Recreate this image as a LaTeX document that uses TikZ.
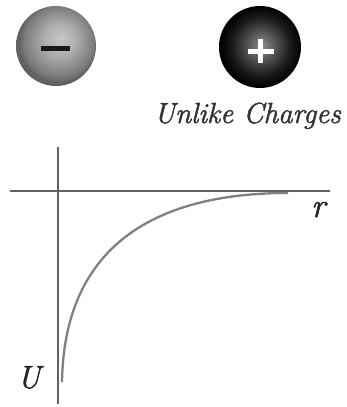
\documentclass[tikz,border=0pt]{standalone}
\usepackage{fontspec}
\newfontfamily\lmit{Latin Modern Roman}[FakeBold=1.6]
\pgfdeclareradialshading{lightball}{\pgfpoint{3bp}{5bp}}{color(0bp)=(black!22); color(10bp)=(black!32); color(22bp)=(black!52); color(25bp)=(black!62); color(50bp)=(black!62)}
\pgfdeclareradialshading{darkball}{\pgfpoint{1bp}{1bp}}{color(0bp)=(black!45); color(9bp)=(black!68); color(18bp)=(black!90); color(25bp)=(black); color(50bp)=(black)}
\begin{document}
\begin{tikzpicture}[x=1pt,y=-1pt,
  axis/.style={draw=black!62, line width=2.8pt},
  curve/.style={draw=black!50, line width=2.3pt},
  lbl/.style={inner sep=0pt}]
\useasboundingbox (0,0) rectangle (346,407);
% spheres
\shade[shading=lightball] (56,46) circle (40);
\node[circle, minimum size=80pt, inner sep=0pt] (neg) at (56,46) {};
\fill[black!90] (41,45.5) rectangle (70,50.5);
\shade[shading=darkball] (260,47) circle (41);
\node[circle, minimum size=82pt, inner sep=0pt] (pos) at (260,47) {};
\fill[white] (258,39) rectangle (263,63);
\fill[white] (248,48.5) rectangle (274,53.5);
\node[lbl, font=\lmit\itshape\fontsize{29}{31}\selectfont, text=black!80, anchor=base east] (cap) at (341,123) {Unlike Charges};
% axes
\coordinate (vt) at (58,147);
\coordinate (vb) at (58,404);
\coordinate (hl) at (10,191);
\coordinate (hr) at (330,191);
\draw[axis] (vt) -- (vb);
\draw[axis] (hl) -- (hr);
\coordinate (cs) at (62,382);
\coordinate (ce) at (288,193);
\draw[curve] (cs) .. controls (64,250) and (150,193) .. (ce);
\node[lbl, font=\lmit\itshape\fontsize{34}{36}\selectfont, text=black!85, anchor=base west] (r) at (311,217) {r};
\node[lbl, font=\lmit\itshape\fontsize{32}{34}\selectfont, text=black!85, anchor=base west] (U) at (17,388) {U};
\end{tikzpicture}
\end{document}
